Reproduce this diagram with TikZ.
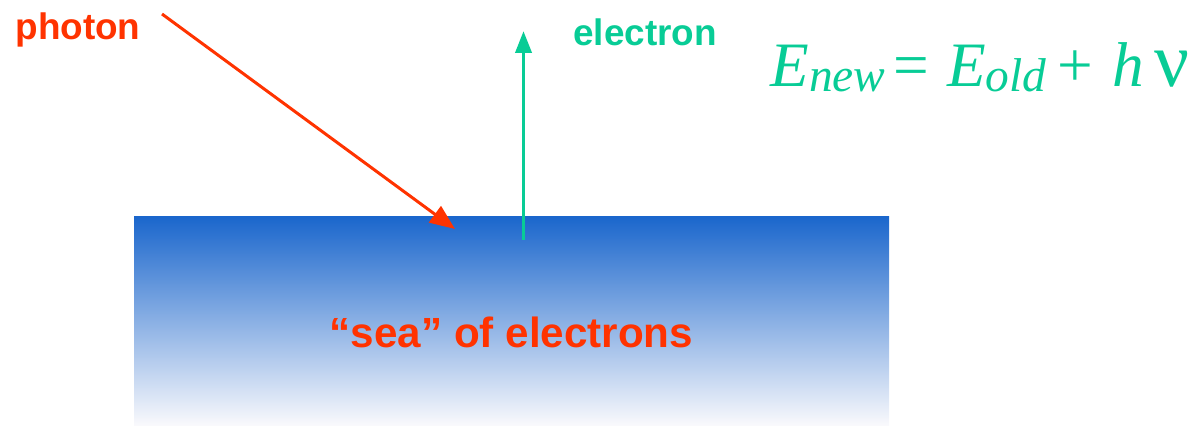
\documentclass[tikz,border=0pt]{standalone}
\usepackage{fontspec}
\setmainfont{Liberation Sans}
\newfontfamily\eqfont{Liberation Serif}
\usetikzlibrary{arrows.meta}
\definecolor{photonred}{RGB}{255,51,0}
\definecolor{electrongreen}{RGB}{8,204,150}
\definecolor{seablue}{RGB}{26,102,204}
\definecolor{sealav}{RGB}{150,166,222}
\definecolor{seawhite}{RGB}{249,249,252}
\newcommand{\eqsub}[1]{\raisebox{-0.1cm}{\fontsize{27}{28}\selectfont\itshape #1}}
\begin{document}
\begin{tikzpicture}[
  lbl/.style={inner sep=0pt, font=\bfseries\fontsize{21}{24}\selectfont},
  ray/.style={line width=1.7pt, -{Triangle[length=0.5cm, width=0.4cm]}}
]
\useasboundingbox (0,0) rectangle (23.88,-8.52);
\shade[top color=seablue, middle color=sealav, bottom color=seawhite] (2.68,-4.32) rectangle (17.78,-8.50);
\node[lbl, text=photonred] (photon) at (1.56,-0.60) {photon};
\node[lbl, text=electrongreen] (electron) at (12.90,-0.64) {electron};
\node[lbl, text=photonred, font=\bfseries\fontsize{24}{28}\selectfont] (sea) at (10.23,-6.64) {``sea'' of electrons};
\node[anchor=base west, inner sep=0pt, text=electrongreen, font=\eqfont\fontsize{36}{40}\selectfont] (energy) at (15.40,-1.74)
  {\textit{E}\eqsub{new}\hspace{0.16cm}=\hspace{0.36cm}\textit{E}\eqsub{old}\hspace{0.22cm}+\hspace{0.38cm}\textit{h}\hspace{0.22cm}{\fontsize{44}{44}\selectfont ν}};
\coordinate (photonstart) at (3.24,-0.28);
\coordinate (photonhit) at (9.10,-4.58);
\coordinate (electronstart) at (10.47,-4.80);
\coordinate (electronout) at (10.47,-0.62);
\draw[ray, photonred] (photonstart) -- (photonhit);
\draw[ray, electrongreen, line width=2.2pt, -{Triangle[length=0.44cm, width=0.32cm]}] (electronstart) -- (electronout);
\end{tikzpicture}
\end{document}
